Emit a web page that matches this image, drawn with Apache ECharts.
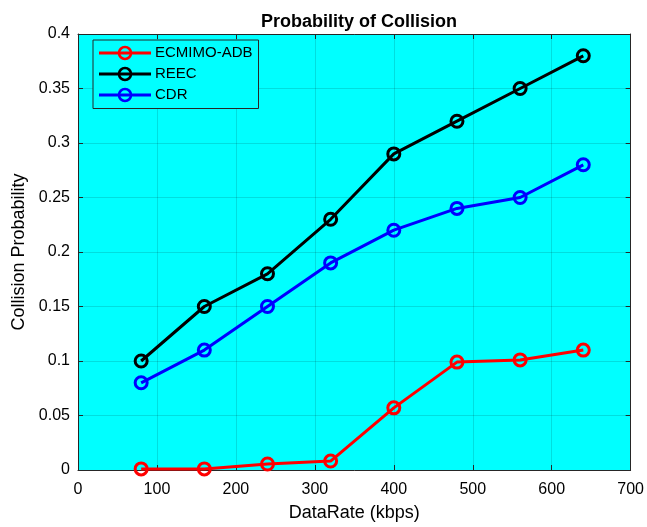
<!DOCTYPE html>
<html>
<head>
<meta charset="utf-8">
<script src="https://cdn.jsdelivr.net/npm/echarts@6/dist/echarts.min.js"></script>
<style>
  html, body { margin: 0; padding: 0; background: #ffffff; }
  #chart { width: 647px; height: 527px; }
</style>
</head>
<body>
<div id="chart"></div>
<script>
// Data rate (kbps) and collision probability for each scheme
const dataRates = [80, 160, 240, 320, 400, 480, 560, 640];
const ecmimoAdb = [0.001, 0.001, 0.0055, 0.0082, 0.057, 0.099, 0.101, 0.110];
const reec      = [0.100, 0.150, 0.180, 0.230, 0.290, 0.320, 0.350, 0.380];
const cdr       = [0.080, 0.110, 0.150, 0.190, 0.220, 0.240, 0.250, 0.280];

const seriesNames = ['ECMIMO-ADB', 'REEC', 'CDR'];
const seriesColors = ['#ff0000', '#000000', '#0000ff'];
const seriesValues = [ecmimoAdb, reec, cdr];

const FONT = 'Liberation Sans, Arial, sans-serif';
const AXIS_COLOR = '#262626';
const GRID_COLOR = 'rgba(0,0,0,0.13)';

const chart = echarts.init(document.getElementById('chart'), null, { renderer: 'canvas' });

const series = seriesNames.map((name, i) => ({
  name: name,
  type: 'line',
  xAxisIndex: 0,
  yAxisIndex: 0,
  data: dataRates.map((x, j) => [x, seriesValues[i][j]]),
  symbol: 'circle',
  symbolSize: 12,
  showAllSymbol: true,
  color: seriesColors[i],
  lineStyle: { color: seriesColors[i], width: 3 },
  itemStyle: { color: 'rgba(0,0,0,0)', borderColor: seriesColors[i], borderWidth: 3 },
  emphasis: { disabled: true },
  z: 3
}));

chart.setOption({
  animation: false,
  backgroundColor: '#ffffff',
  title: {
    text: 'Probability of Collision',
    left: 354,
    textAlign: 'center',
    top: 8,
    textStyle: { fontFamily: FONT, fontWeight: 'bold', fontSize: 18, color: '#000' }
  },
  legend: {
    orient: 'vertical',
    left: 93,
    top: 40,
    padding: [5.5, 6, 6, 4.5],
    itemGap: 6,
    itemWidth: 52,
    itemHeight: 15,
    backgroundColor: '#00ffff',
    borderColor: AXIS_COLOR,
    borderWidth: 1,
    borderRadius: 0,
    lineStyle: { width: 3 },
    itemStyle: { borderWidth: 2.6 },
    data: seriesNames,
    textStyle: { fontFamily: FONT, fontSize: 15, color: '#000', padding: [0, 0, 0, -1] },
    selectedMode: false
  },
  grid: {
    left: 78, right: 16, top: 34, bottom: 55,
    show: true,
    backgroundColor: '#00ffff',
    borderWidth: 0
  },
  xAxis: [{
    type: 'value',
    min: 0, max: 700, interval: 100,
    name: 'DataRate (kbps)',
    nameLocation: 'middle',
    nameGap: 34,
    nameTextStyle: { fontFamily: FONT, fontSize: 18, color: '#000' },
    axisLine: { show: true, onZero: false, lineStyle: { color: AXIS_COLOR, width: 1 } },
    axisTick: { show: true, inside: true, length: 5, lineStyle: { color: AXIS_COLOR } },
    axisLabel: { fontFamily: FONT, fontSize: 16, color: '#000', margin: 12 },
    splitLine: { show: true, lineStyle: { color: GRID_COLOR, width: 1 } }
  }, {
    type: 'value',
    position: 'top',
    min: 0, max: 700, interval: 100,
    axisLine: { show: true, onZero: false, lineStyle: { color: AXIS_COLOR, width: 1 } },
    axisTick: { show: true, inside: true, length: 5, lineStyle: { color: AXIS_COLOR } },
    axisLabel: { show: false },
    splitLine: { show: false }
  }],
  yAxis: [{
    type: 'value',
    min: 0, max: 0.4, interval: 0.05,
    name: 'Collision Probability',
    nameLocation: 'middle',
    nameGap: 43,
    nameTextStyle: { fontFamily: FONT, fontSize: 18, color: '#000' },
    axisLine: { show: true, onZero: false, lineStyle: { color: AXIS_COLOR, width: 1 } },
    axisTick: { show: true, inside: true, length: 5, lineStyle: { color: AXIS_COLOR } },
    axisLabel: {
      fontFamily: FONT, fontSize: 16, color: '#000', margin: 8,
      formatter: v => String(parseFloat(v.toFixed(2)))
    },
    splitLine: { show: true, lineStyle: { color: GRID_COLOR, width: 1 } }
  }, {
    type: 'value',
    position: 'right',
    min: 0, max: 0.4, interval: 0.05,
    axisLine: { show: true, onZero: false, lineStyle: { color: AXIS_COLOR, width: 1 } },
    axisTick: { show: true, inside: true, length: 5, lineStyle: { color: AXIS_COLOR } },
    axisLabel: { show: false },
    splitLine: { show: false }
  }],
  series: series
});
</script>
</body>
</html>
